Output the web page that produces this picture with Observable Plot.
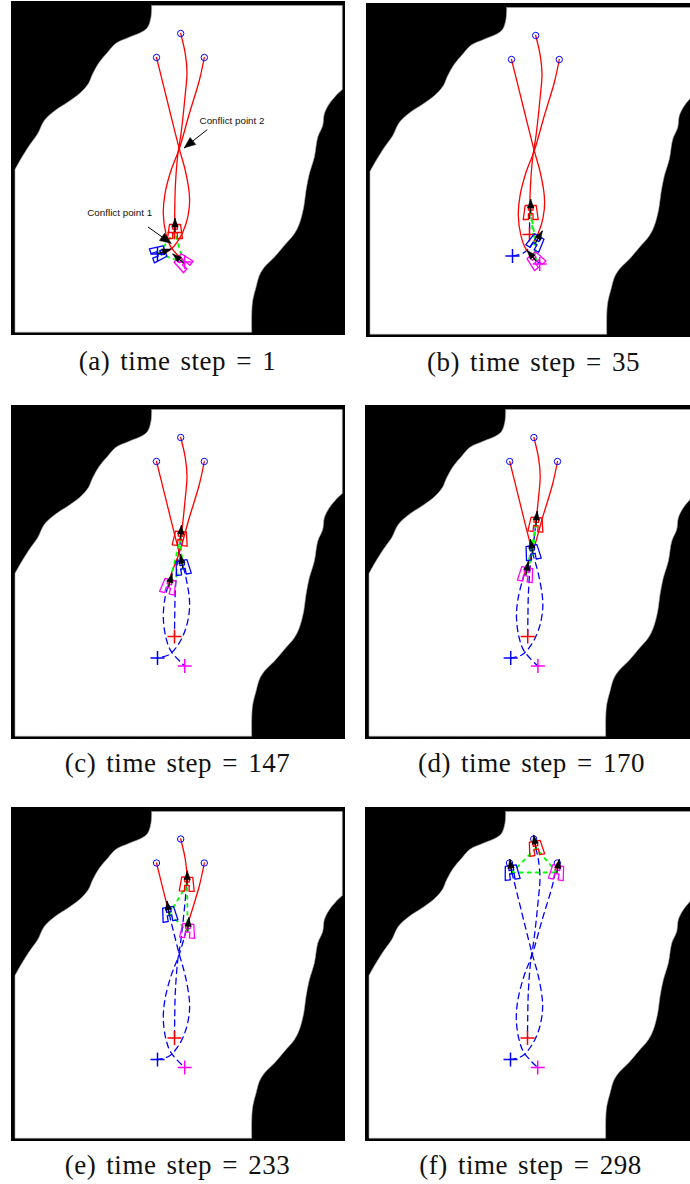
<!DOCTYPE html>
<html><head><meta charset="utf-8">
<script src="https://cdn.jsdelivr.net/npm/d3@7"></script>
<script src="https://cdn.jsdelivr.net/npm/@observablehq/plot@0.6"></script>
<style>
html,body{margin:0;padding:0;background:#fff;width:690px;height:1184px;overflow:hidden}
.panel{position:absolute;width:334px;height:334px}
.panel svg{display:block;background:transparent;max-width:none!important;width:334px;height:334px}
.cap{position:absolute;width:300px;text-align:center;font:27px "Liberation Serif",serif;letter-spacing:0.5px;word-spacing:3px;color:#111;white-space:nowrap;line-height:30px}
</style></head><body>
<script>
// navigable water outline, in map units (corners listed twice stay sharp)
const landX=[150.7,150.7,341.3,341.3,341.3,341.3,335,328.3,323.3,321.7,316.7,313.3,308.3,305,302.7,298.3,293.3,283.3,273.3,263.3,258.3,255,251.7,250.7,250.7,250.7,14,14,14,14,20,28.3,36.7,43.3,55,66.7,78.3,87.3,91.7,98.3,106.7,115,128.3,141.7,146.7,150];
const landY=[5,5,5,5,89,89,95,103.3,113.3,125,136.7,156.7,173.3,190,206.7,223.3,233.3,245,256.7,266.7,275,286.7,300,313.3,331.7,331.7,331.7,331.7,169,169,158.3,145,133.3,120,109.3,101.7,93.3,83.3,73.3,61.7,51.7,42.7,36.7,31,26.7,16.7];
// planned paths, goal to start
const bluePathX=[155.5,163.3,170.7,178.3,184.3,188.3,188.3,185,178.3,168.3,156.5];
const bluePathY=[57,88.3,118.3,148.3,170,193.3,206.7,223.3,238.3,250,253.5];
const magPathX=[203.3,198.3,188.3,178.3,170,164,162.3,165,170,183.7];
const magPathY=[57,80,113.3,148.3,170,193.3,213.3,233.3,246.7,261.5];
const redPathX=[179.7,184.3,186,184.3,180,176.7,174.3,173.7,173.5];
const redPathY=[33,53.3,71.7,93.3,133.3,155,186.7,213.3,232];
// vessel states per panel
const captions=["(a) time step = 1","(b) time step = 35","(c) time step = 147","(d) time step = 170","(e) time step = 233","(f) time step = 298"];
const redX=[174,174.7,179.3,181,186,181], redY=[231,210,134,120,77.7,41.7], redHead=[0,0,5,5,2,-10];
const blueX=[157.5,179.7,181.7,177.7,168.3,156.7], blueY=[253,240,163,148,107.7,66], blueHead=[70,30,-10,-10,-10,-8];
const magX=[182,179.7,167.7,171,186.7,202], magY=[262,258,182,170,124.3,66], magHead=[-50,-40,15,10,5,10];
// panel offsets on the page, and the small shift of the traces inside each map
const panelDx=[0,355,0,354.5,0,354.5], panelDy=[0,2,404,404,806,806];
const traceDx=[0,0,0,-0.8,0,-1], traceDy=[0,0,0,0,-0.5,-0.5];
const captionX=[177.5,533.5,177.5,531.5,177.5,530.5], captionY=[346,347,748,748,1150,1150];
// annotations in panel (a)
const noteText=["Conflict point 1","Conflict point 2"], noteX=[118.7,231], noteY=[212.7,120.7];
const noteFromX=[147.3,206], noteFromY=[226.7,129.3], noteToX=[170,183.3], noteToY=[242.7,147.3];
// vessel outline, heading up
const hullX=[-2.3,-5.5,-7.5,-2.3,-2.3,2.3,2.3,7.5,5.5,2.3,2.3,-2.3];
const hullY=[-7,-7,7,7,1.2,1.2,7,7,-7,-7,-2.3,-2.3];
const arrowLength=13;

const toPts=(xs,ys)=>xs.map((x,i)=>({x,y:ys[i]}));
function split(pts,p){
  let best=0,bd=1e9,bq=pts[0];
  for(let i=0;i<pts.length-1;i++){
    const a=pts[i],b=pts[i+1],dx=b.x-a.x,dy=b.y-a.y;
    const t=Math.max(0,Math.min(1,((p.x-a.x)*dx+(p.y-a.y)*dy)/(dx*dx+dy*dy)));
    const q={x:a.x+t*dx,y:a.y+t*dy},d=(q.x-p.x)**2+(q.y-p.y)**2;
    if(d<bd){bd=d;best=i;bq=q;}
  }
  return [[...pts.slice(0,best+1),bq],[bq,...pts.slice(best+1)]];
}
const rot=(p,deg,lx,ly)=>{const r=deg*Math.PI/180,c=Math.cos(r),s=Math.sin(r);return {x:p.x+lx*c-ly*s,y:p.y+lx*s+ly*c};};
function head(from,to,len,wid){
  const a=Math.atan2(to.y-from.y,to.x-from.x),ux=Math.cos(a),uy=Math.sin(a);
  const b={x:to.x-ux*len,y:to.y-uy*len};
  return [to,{x:b.x-uy*wid/2,y:b.y+ux*wid/2},{x:b.x+uy*wid/2,y:b.y-ux*wid/2},to];
}
const colors={red:"#ff0000",blue:"#0000ff",mag:"#ff00ff"};
const paths={red:toPts(redPathX,redPathY),blue:toPts(bluePathX,bluePathY),mag:toPts(magPathX,magPathY)};
const crosses=[{x:173.5,y:232,c:"red"},{x:156.5,y:253.5,c:"blue"},{x:183.7,y:261.5,c:"mag"}];
const goals=[{x:155.5,y:57},{x:179.7,y:33},{x:203.3,y:57}];

captions.forEach((cap,i)=>{
  const tx=traceDx[i], ty=traceDy[i];
  const shift=d=>({...d,x:d.x+tx,y:d.y+ty});
  const vessels=[
    {c:"red",x:redX[i],y:redY[i],h:redHead[i]},
    {c:"blue",x:blueX[i],y:blueY[i],h:blueHead[i]},
    {c:"mag",x:magX[i],y:magY[i],h:magHead[i]}];
  const marks=[];
  marks.push(Plot.line(toPts(landX,landY),{x:"x",y:"y",curve:"catmull-rom-closed",fill:"#fff",stroke:"#aaa",strokeWidth:0.6}));
  for(const v of vessels){
    const [todo,done]=split(paths[v.c].map(shift),v);
    marks.push(Plot.line(done,{x:"x",y:"y",curve:"catmull-rom",stroke:colors.blue,strokeWidth:1.3,strokeDasharray:"6 4.5"}));
    marks.push(Plot.line(todo,{x:"x",y:"y",curve:"catmull-rom",stroke:colors.red,strokeWidth:1.3}));
  }
  const links=[[0,1],[1,2],[2,0]].flatMap(([a,b],k)=>[{x:vessels[a].x,y:vessels[a].y,k},{x:vessels[b].x,y:vessels[b].y,k}]);
  marks.push(Plot.line(links,{x:"x",y:"y",z:"k",stroke:"#00ff00",strokeWidth:1.8,strokeDasharray:"3 5"}));
  marks.push(Plot.dot(crosses.map(shift),{x:"x",y:"y",symbol:"plus",r:4.6,stroke:d=>colors[d.c],strokeWidth:1.5}));
  marks.push(Plot.dot(goals.map(shift),{x:"x",y:"y",r:3.2,stroke:colors.blue,strokeWidth:1,fill:"none"}));
  for(const v of vessels){
    const outline=hullX.map((lx,j)=>rot(v,v.h,lx,hullY[j]));
    marks.push(Plot.line(outline,{x:"x",y:"y",curve:"linear-closed",stroke:colors[v.c],strokeWidth:1.3,strokeLinejoin:"round",fill:"none"}));
    const tip=rot(v,v.h,0,-arrowLength);
    marks.push(Plot.line([v,tip],{x:"x",y:"y",stroke:"#000",strokeWidth:1.2}));
    marks.push(Plot.line(head(v,tip,8.5,6.5),{x:"x",y:"y",fill:"#000",stroke:"#000",strokeWidth:0.5}));
  }
  if(i===0){
    marks.push(Plot.text(noteText.map((t,j)=>({t,x:noteX[j],y:noteY[j]})),{x:"x",y:"y",text:"t",fontSize:9.8,fill:"#111",fontFamily:"Liberation Sans"}));
    noteText.forEach((t,j)=>{
      const a={x:noteFromX[j],y:noteFromY[j]},b={x:noteToX[j],y:noteToY[j]};
      marks.push(Plot.line([a,b],{x:"x",y:"y",stroke:"#000",strokeWidth:1}));
      marks.push(Plot.line(head(a,b,11,9),{x:"x",y:"y",fill:"#000",stroke:"#000",strokeWidth:0.5}));
    });
  }
  const svg=Plot.plot({width:334,height:334,margin:0,
    x:{domain:[10.5,344.5],range:[0,334],axis:null},
    y:{domain:[1,335],range:[0,334],axis:null},
    style:{background:"#000",maxWidth:"none"},
    marks});
  const div=document.createElement("div");
  div.className="panel";
  div.style.left=(10.5+panelDx[i])+"px";
  div.style.top=(1+panelDy[i])+"px";
  div.appendChild(svg);
  document.body.appendChild(div);
  const c=document.createElement("div");
  c.className="cap";
  c.textContent=cap;
  c.style.left=(captionX[i]-150)+"px";
  c.style.top=captionY[i]+"px";
  document.body.appendChild(c);
});
</script>
</body></html>
